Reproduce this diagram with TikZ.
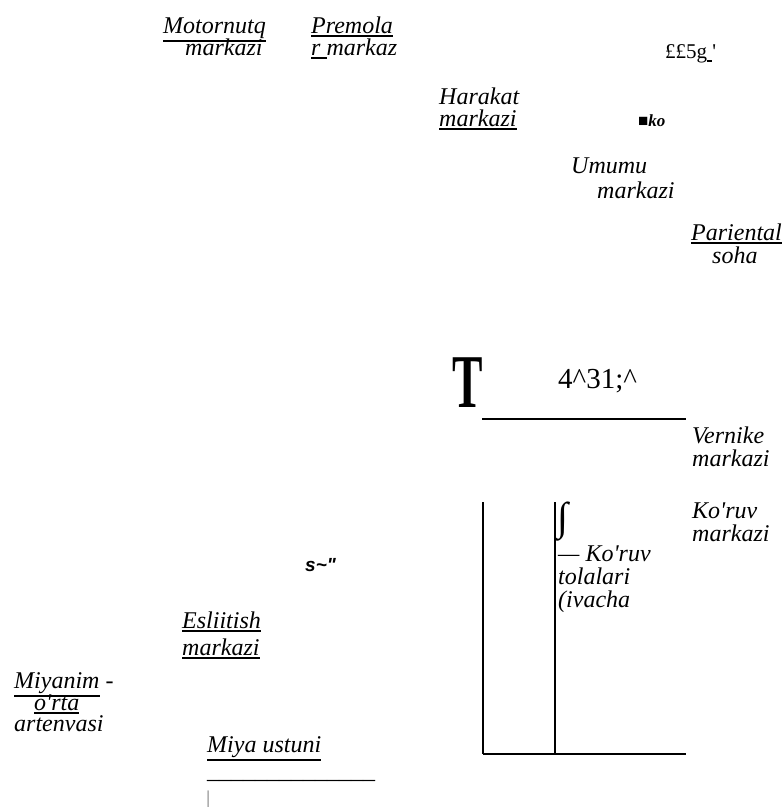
\documentclass[tikz,border=0pt]{standalone}
\usepackage{fontspec}
\setmainfont{Liberation Serif}
\newfontfamily\sansf{Liberation Sans}
\newcommand\ul[1]{\leavevmode\vtop{\hbox{#1}\kern2.2pt\hrule height 1.6pt}}
\newcommand\aps{\textquotesingle}
\begin{document}
\begin{tikzpicture}[x=1pt,y=-1pt,
  lbl/.style={anchor=base west,inner sep=0pt,font=\itshape\fontsize{24}{26}\selectfont},
  plain/.style={anchor=base west,inner sep=0pt,font=\fontsize{21}{23}\selectfont},
  heavy/.style={line width=2.5pt,black}]
\useasboundingbox (0,0) rectangle (784,807);
% top row
\node[lbl] (mot1) at (163,33) {\ul{Motornutq}};
\node[lbl] (mot2) at (185,55) {markazi};
\node[lbl] (pre1) at (311,33) {\ul{Premola}};
\node[lbl] (pre2) at (311,55) {\ul{r\ }markaz};
\node[plain] (ff) at (665,58) {££5g\ul{\ }\aps};
% Harakat
\node[lbl] (har1) at (439,104) {Harakat};
\node[lbl] (har2) at (439,126) {\ul{markazi}};
\node[anchor=base west,inner sep=0pt,font=\bfseries\itshape\fontsize{17}{19}\selectfont] (ko) at (638,126) {■ko};
% Umumu
\node[lbl] (umu1) at (571,173) {Umumu};
\node[lbl] (umu2) at (597,198) {markazi};
% Pariental
\node[lbl] (par1) at (691,240) {\ul{Pariental}};
\node[lbl] (par2) at (712,263) {soha};
% T and numbers
\node[anchor=base west,inner sep=0pt,xscale=0.6,font=\bfseries\fontsize{76}{76}\selectfont] (T) at (452,407) {T};
\node[anchor=base west,inner sep=0pt,font=\fontsize{29}{31}\selectfont] (num) at (558,388) {4\textasciicircum31;\textasciicircum};
\coordinate (l1a) at (482,419);
\coordinate (l1b) at (686,419);
\draw[heavy] (l1a) -- (l1b);
% Vernike
\node[lbl] (ver1) at (692,443) {Vernike};
\node[lbl] (ver2) at (692,466) {markazi};
% box lines
\coordinate (v1t) at (483,502);
\coordinate (v1b) at (483,754);
\coordinate (v2t) at (555,502);
\coordinate (v2b) at (555,754);
\coordinate (bR) at (686,754);
\draw[heavy] (v1t) -- (v1b);
\draw[heavy] (v2t) -- (v2b);
\draw[heavy] (v1b) -- (bR);
% fibres
\node[anchor=base west,inner sep=0pt,font=\itshape\fontsize{40}{40}\selectfont] (int) at (557,530) {∫};
\node[lbl] (kt1) at (558,561) {— Ko\aps ruv};
\node[lbl] (kt2) at (558,584) {tolalari};
\node[lbl] (kt3) at (558,607) {(ivacha};
% Ko'ruv markazi
\node[lbl] (kor1) at (692,518) {Ko\aps ruv};
\node[lbl] (kor2) at (692,541) {markazi};
% s~"
\node[anchor=base west,inner sep=0pt,font=\sansf\bfseries\itshape\fontsize{19}{21}\selectfont] (s) at (305,571) {s\textasciitilde"};
% Esliitish
\node[lbl] (esl1) at (182,628) {\ul{Esliitish}};
\node[lbl] (esl2) at (182,655) {\ul{markazi}};
% Miyanim
\node[lbl] (miy1) at (14,688) {\ul{Miyanim} -};
\node[lbl] (miy2) at (34,710) {\ul{o\aps rta}};
\node[lbl] (miy3) at (14,731) {artenvasi};
% Miya ustuni
\node[lbl] (mu) at (207,752) {\ul{Miya ustuni}};
\node[anchor=base west,inner sep=0pt,font=\fontsize{24}{26}\selectfont] (us) at (207,778) {\_\_\_\_\_\_\_\_\_\_\_\_\_\_};
\node[anchor=base west,inner sep=0pt,text=gray,font=\fontsize{21}{22}\selectfont] (bar) at (206,805) {|};
\end{tikzpicture}
\end{document}
